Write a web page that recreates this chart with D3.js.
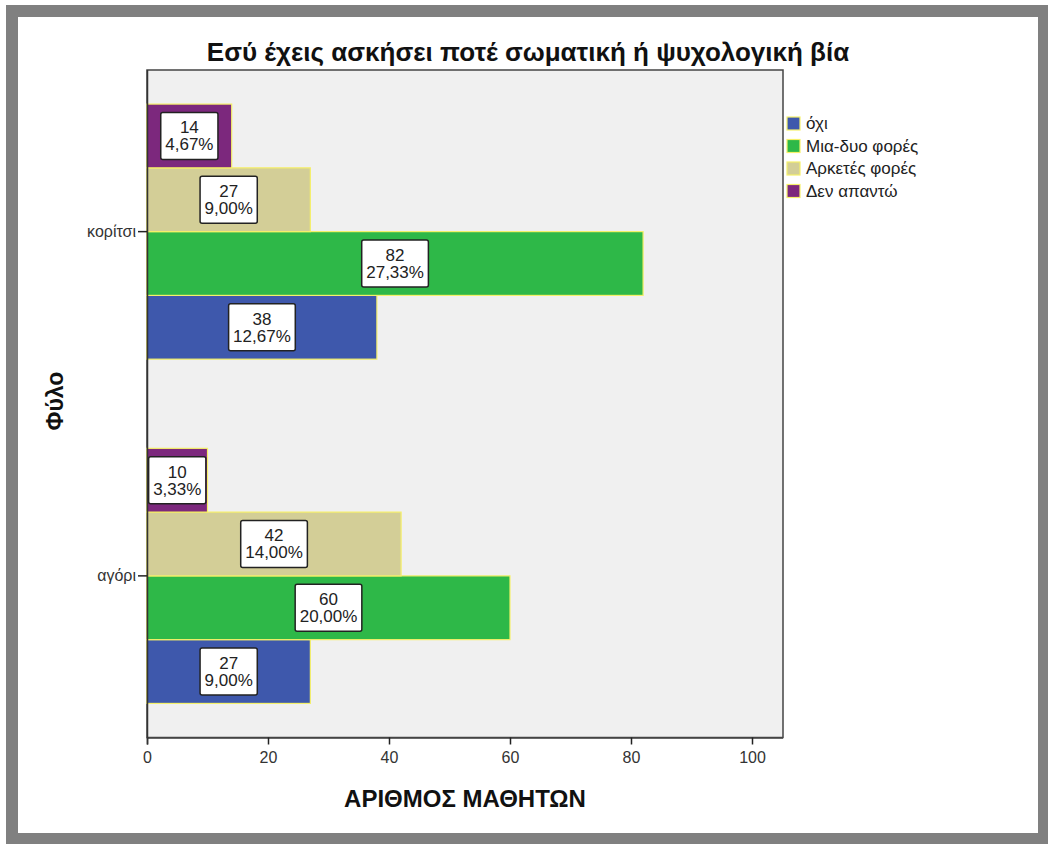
<!DOCTYPE html>
<html><head><meta charset="utf-8">
<script src="https://cdn.jsdelivr.net/npm/d3@7"></script>
<style>body{margin:0;background:#fff}svg{display:block;font-family:"Liberation Sans",Arial,sans-serif}</style>
</head><body><svg id="c" width="1048" height="844"></svg>
<script>
const titleText = "Εσύ έχεις ασκήσει ποτέ σωματική ή ψυχολογική βία";
const xTitle = "ΑΡΙΘΜΟΣ ΜΑΘΗΤΩΝ";
const yTitle = "Φύλο";
const groups = ["κορίτσι", "αγόρι"];
const series = ["όχι", "Μια-δυο φορές", "Αρκετές φορές", "Δεν απαντώ"];
const colors = ["#3e58ac", "#2eb848", "#d3ce97", "#7c287d"];
const girlCounts = [38, 82, 27, 14];
const boyCounts = [27, 60, 42, 10];
const girlPercents = ["12,67%", "27,33%", "9,00%", "4,67%"];
const boyPercents = ["9,00%", "20,00%", "14,00%", "3,33%"];
const xTicks = [0, 20, 40, 60, 80, 100];

const svg = d3.select("#c");
// frame
svg.append("rect").attr("x",6).attr("y",5).attr("width",1042).attr("height",839).attr("fill","#808080");
svg.append("rect").attr("x",18).attr("y",17).attr("width",1020).attr("height",816).attr("fill","#fff");

const x = d3.scaleLinear().domain([0,100]).range([147,752]);
const plotL = 147, plotR = 783, plotT = 70, plotB = 737.5;
const y0 = d3.scaleBand().domain(groups).range([plotT, plotB]).paddingInner(0.259).paddingOuter(0.099);
const inner = series.slice().reverse();
const y1 = d3.scaleBand().domain(inner).range([0, y0.bandwidth()]);
const color = d3.scaleOrdinal().domain(series).range(colors);

svg.append("rect").attr("x",plotL).attr("y",plotT).attr("width",plotR-plotL).attr("height",plotB-plotT)
  .attr("fill","#f0f0f0").attr("stroke","#444").attr("stroke-width",1.5);

const data = [];
groups.forEach((g,gi)=>{
  const counts = gi===0?girlCounts:boyCounts;
  const pcts = gi===0?girlPercents:boyPercents;
  series.forEach((s,si)=>data.push({g, s, v:counts[si], p:pcts[si]}));
});

svg.append("g").selectAll("rect").data(data).join("rect")
  .attr("x", x(0))
  .attr("y", d=>y0(d.g)+y1(d.s))
  .attr("width", d=>x(d.v)-x(0))
  .attr("height", y1.bandwidth())
  .attr("fill", d=>color(d.s))
  .attr("stroke","#f5f06a").attr("stroke-width",1.2);

// axes
const xAxis = d3.axisBottom(x).tickValues(xTicks).tickSize(7).tickPadding(7).tickFormat(d3.format("d"));
const gx = svg.append("g").attr("transform",`translate(0,${plotB})`).call(xAxis);
gx.select(".domain").attr("d",`M${plotL},0.5H${plotR}`).attr("stroke","#444").attr("stroke-width",1.5);
gx.selectAll(".tick line").attr("stroke","#222").attr("stroke-width",1.5);
gx.selectAll(".tick text").attr("font-size",16).attr("fill","#333").attr("font-family","Liberation Sans, Arial");

const yAxis = d3.axisLeft(y0).tickSize(9).tickPadding(2);
const gy = svg.append("g").attr("transform",`translate(${plotL},0)`).call(yAxis);
gy.select(".domain").attr("d",`M0.5,${plotT}V${plotB+7}`).attr("stroke","#333").attr("stroke-width",1.5);
gy.selectAll(".tick line").attr("stroke","#222").attr("stroke-width",1.5);
gy.selectAll(".tick text").attr("font-size",16).attr("fill","#333").attr("font-family","Liberation Sans, Arial");

// labels
const lab = svg.append("g").selectAll("g").data(data).join("g")
  .attr("transform", d=>`translate(${x(d.v/2)},${y0(d.g)+y1(d.s)+y1.bandwidth()/2})`);
lab.each(function(d){
  const g = d3.select(this);
  const r = g.append("rect").attr("fill","#fff").attr("stroke","#222").attr("stroke-width",1.5).attr("rx",2);
  const t1 = g.append("text").attr("text-anchor","middle").attr("y",-2.5).attr("font-size",17).attr("fill","#222").text(d.v);
  const t2 = g.append("text").attr("text-anchor","middle").attr("y",14.5).attr("font-size",17).attr("fill","#222").text(d.p);
  const w = Math.max(t1.node().getComputedTextLength(), t2.node().getComputedTextLength()) + 9;
  r.attr("x",-w/2).attr("y",-23.5).attr("width",w).attr("height",47);
});

// titles
svg.append("text").attr("x",528).attr("y",61).attr("text-anchor","middle")
  .attr("font-size",26).attr("font-weight","bold").attr("fill","#111").text(titleText);
svg.append("text").attr("x",(plotL+plotR)/2).attr("y",807).attr("text-anchor","middle")
  .attr("font-size",24).attr("font-weight","bold").attr("fill","#111").text(xTitle);
svg.append("text").attr("transform","translate(63,401) rotate(-90)").attr("text-anchor","middle")
  .attr("font-size",23).attr("font-weight","bold").attr("fill","#111").text(yTitle);

// legend
const leg = svg.append("g").selectAll("g").data(series).join("g")
  .attr("transform",(d,i)=>`translate(787,${117+i*22.5})`);
leg.append("rect").attr("width",13).attr("height",13).attr("fill",d=>color(d)).attr("stroke","#f5f06a").attr("stroke-width",1.2);
leg.append("text").attr("x",19).attr("y",12).attr("font-size",17).attr("fill","#222").text(d=>d);
</script></body></html>
